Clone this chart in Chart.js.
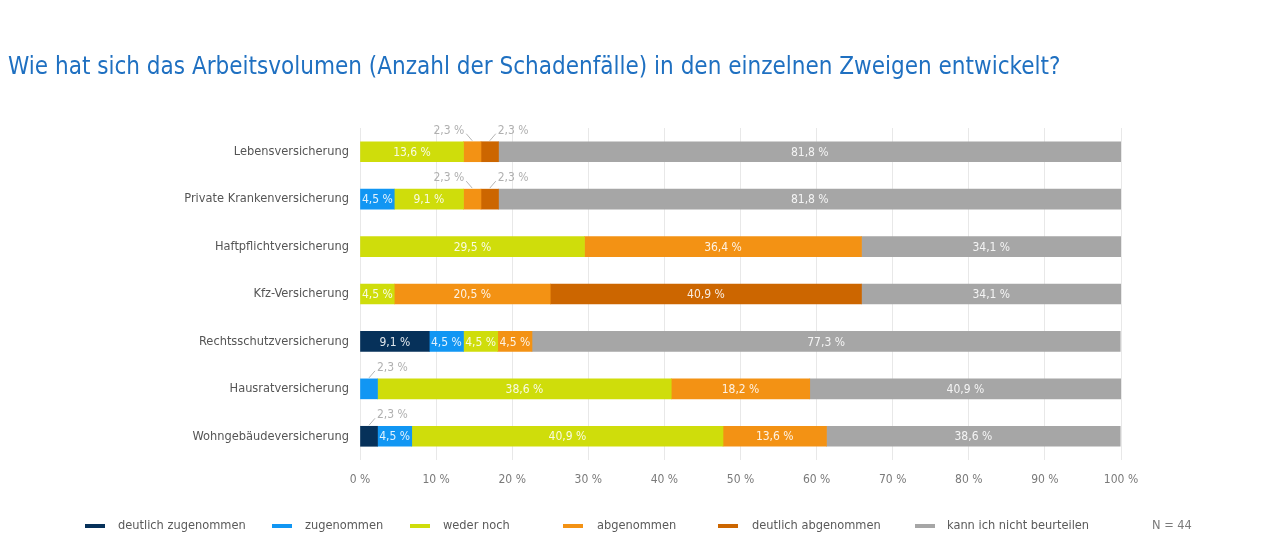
<!DOCTYPE html>
<html>
<head>
<meta charset="utf-8">
<script src="https://cdn.jsdelivr.net/npm/chart.js@4"></script>
<style>
  html, body { margin: 0; padding: 0; background: #ffffff; }
  #wrap { width: 1280px; height: 542px; position: relative; }
</style>
</head>
<body>
<div id="wrap"><canvas id="c" width="1280" height="542"></canvas></div>
<script>
const titleText = 'Wie hat sich das Arbeitsvolumen (Anzahl der Schadenfälle) in den einzelnen Zweigen entwickelt?';
const sampleNote = 'N = 44';
const categories = [
  'Lebensversicherung',
  'Private Krankenversicherung',
  'Haftpflichtversicherung',
  'Kfz-Versicherung',
  'Rechtsschutzversicherung',
  'Hausratversicherung',
  'Wohngebäudeversicherung'
];
const seriesNames = [
  'deutlich zugenommen',
  'zugenommen',
  'weder noch',
  'abgenommen',
  'deutlich abgenommen',
  'kann ich nicht beurteilen'
];
const deutlichZugenommen = [0, 0, 0, 0, 9.1, 0, 2.3];
const zugenommen        = [0, 4.5, 0, 0, 4.5, 2.3, 4.5];
const wederNoch         = [13.6, 9.1, 29.5, 4.5, 4.5, 38.6, 40.9];
const abgenommen        = [2.3, 2.3, 36.4, 20.5, 4.5, 18.2, 13.6];
const deutlichAbgenommen= [2.3, 2.3, 0, 40.9, 0, 0, 0];
const kannNicht         = [81.8, 81.8, 34.1, 34.1, 77.3, 40.9, 38.6];
const xTickValues = [0, 10, 20, 30, 40, 50, 60, 70, 80, 90, 100];

const seriesValues = [deutlichZugenommen, zugenommen, wederNoch, abgenommen, deutlichAbgenommen, kannNicht];
const seriesColors = ['#06315a', '#1196f3', '#cfdd0b', '#f39214', '#cc6600', '#a6a6a6'];

const FONT = '"DejaVu Sans Condensed", "Liberation Sans Narrow", sans-serif';
const fmt = v => v.toFixed(1).replace('.', ',') + ' %';

const datasets = seriesValues.map((vals, i) => ({
  label: seriesNames[i],
  data: vals.map(v => (v ? v : null)),
  backgroundColor: seriesColors[i],
  borderWidth: 0,
  barThickness: 20
}));

const titlePlugin = {
  id: 'titleDraw',
  beforeDraw(chart) {
    const ctx = chart.ctx;
    ctx.save();
    ctx.font = '24px ' + FONT;
    ctx.fillStyle = '#1f70c1';
    ctx.textBaseline = 'middle';
    ctx.textAlign = 'left';
    ctx.fillText(titleText, 8, 68);
    ctx.restore();
  }
};

const labelPlugin = {
  id: 'segLabels',
  afterDatasetsDraw(chart) {
    const ctx = chart.ctx;
    ctx.save();
    ctx.font = '12px ' + FONT;
    ctx.textBaseline = 'middle';
    const n = chart.data.labels.length;
    for (let c = 0; c < n; c++) {
      chart.data.datasets.forEach((ds, d) => {
        const v = ds.data[c];
        if (!v) return;
        const el = chart.getDatasetMeta(d).data[c];
        const x0 = Math.min(el.x, el.base), x1 = Math.max(el.x, el.base);
        const xc = (x0 + x1) / 2;
        if (v >= 3) {
          ctx.fillStyle = 'rgba(255,255,255,0.88)';
          ctx.textAlign = 'center';
          ctx.fillText(fmt(v), xc, el.y + 1);
        } else {
          let nextSmall = false;
          for (let k = d + 1; k < chart.data.datasets.length; k++) {
            const nv = chart.data.datasets[k].data[c];
            if (nv) { nextSmall = nv < 3; break; }
          }
          const top = el.y - el.height / 2;
          const dir = nextSmall ? -1 : 1;
          ctx.strokeStyle = '#b5b5b5';
          ctx.lineWidth = 1;
          ctx.beginPath();
          ctx.moveTo(xc, top - 1);
          ctx.lineTo(xc + dir * 6, top - 8);
          ctx.stroke();
          ctx.fillStyle = '#b0b0b0';
          ctx.textAlign = dir < 0 ? 'right' : 'left';
          ctx.fillText(fmt(v), xc + dir * 8, top - 11);
        }
      });
    }
    ctx.restore();
  }
};

const legendPlugin = {
  id: 'customLegend',
  afterDraw(chart) {
    const ctx = chart.ctx;
    const markerX = [85, 272, 410, 563, 718, 915];
    const textX = [118, 305, 443, 597, 752, 947];
    const y = 526;
    ctx.save();
    ctx.font = '12.7px ' + FONT;
    ctx.textBaseline = 'middle';
    ctx.textAlign = 'left';
    chart.data.datasets.forEach((ds, i) => {
      ctx.fillStyle = ds.backgroundColor;
      ctx.fillRect(markerX[i], y - 2, 20, 4);
      ctx.fillStyle = '#5a5a5a';
      ctx.fillText(ds.label, textX[i], y);
    });
    ctx.fillStyle = '#7a7a7a';
    ctx.fillText(sampleNote, 1152, y);
    ctx.restore();
  }
};

new Chart(document.getElementById('c'), {
  type: 'bar',
  data: { labels: categories, datasets },
  options: {
    indexAxis: 'y',
    responsive: false,
    animation: false,
    layout: { padding: { top: 128, right: 159, left: 0, bottom: 0 } },
    plugins: {
      legend: { display: false },
      title: { display: false },
      tooltip: { enabled: false }
    },
    scales: {
      x: {
        stacked: true,
        min: 0,
        max: 100,
        afterBuildTicks(scale) { scale.ticks = xTickValues.map(v => ({ value: v })); },
        afterFit(scale) { scale.height = 82; },
        border: { display: false },
        grid: { color: '#e8e8e8', drawTicks: false, lineWidth: 1 },
        ticks: {
          padding: 13,
          color: '#7a7a7a',
          font: { family: FONT, size: 12 },
          callback: v => v + ' %'
        }
      },
      y: {
        stacked: true,
        afterFit(scale) { scale.width = 360; },
        border: { display: false },
        grid: { display: false, drawTicks: false },
        ticks: {
          padding: 11,
          color: '#555555',
          font: { family: FONT, size: 12.7 }
        }
      }
    }
  },
  plugins: [titlePlugin, labelPlugin, legendPlugin]
});
</script>
</body>
</html>
